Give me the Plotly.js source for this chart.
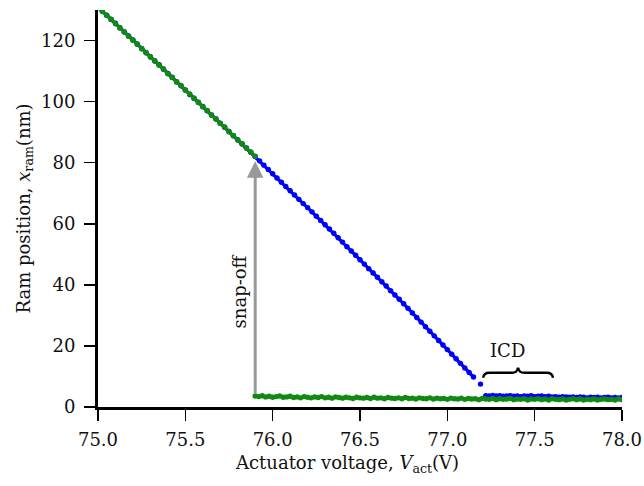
<!DOCTYPE html>
<html>
<head>
<meta charset="utf-8">
<script src="https://cdn.plot.ly/plotly-3.0.1.min.js"></script>
<style>html,body{margin:0;padding:0;background:#fff;}#chart{width:644px;height:486px;}</style>
</head>
<body>
<div id="chart"></div>
<script>
// Sweep sampling: start voltage and step (V) for each series segment
const blueSlopeStart = 75.0, blueSlopeStep = 0.025;
const blueSlopeY = [131.0,129.6,128.3,126.9,125.7,124.2,122.8,121.5,120.2,118.8,117.4,116.0,114.7,113.3,112.1,110.6,109.2,107.9,106.5,105.2,103.8,102.3,101.1,99.7,98.4,97.0,95.6,94.3,92.9,91.6,90.2,88.8,87.5,86.1,84.8,83.4,82.0,80.6,79.2,77.8,76.4,75.0,73.6,72.2,70.8,69.4,68.0,66.6,65.3,63.9,62.5,61.1,59.7,58.3,56.9,55.4,54.0,52.5,51.1,49.7,48.2,46.8,45.3,43.9,42.5,41.0,39.6,38.1,36.7,35.3,33.8,32.3,30.8,29.3,27.8,26.3,24.8,23.3,21.8,20.3,18.8,17.3,15.8,14.3,12.8,11.3,9.8];
const blueLastX = [77.19], blueLastY = [7.5];
const blueFlatStart = 77.22, blueFlatStep = 0.02;
const blueFlatY = [3.7,3.6,3.8,3.6,3.7,3.5,3.6,3.7,3.5,3.6,3.4,3.6,3.5,3.7,3.4,3.5,3.6,3.4,3.5,3.3,3.4,3.2,3.4,3.3,3.2,3.3,3.1,3.3,3.2,3.0,3.2,3.1,3.2,3.0,3.1,3.2,3.0,3.1,3.0,3.1];
const greenSlopeStart = 75.0, greenSlopeStep = 0.025;
const greenSlopeY = [130.8,129.5,128.2,127.0,125.5,124.1,122.9,121.4,120.1,118.9,117.3,116.1,114.6,113.4,111.9,110.7,109.1,108.0,106.4,105.3,103.7,102.5,101.0,99.8,98.3,97.1,95.5,94.4,92.8,91.7,90.1,88.9,87.4,86.2,84.7,83.5,82.1];
const greenFlatStart = 75.9, greenFlatStep = 0.02;
const greenFlatY = [3.6,3.4,3.7,3.3,3.5,3.2,3.4,3.6,3.2,3.3,3.5,3.1,3.3,3.0,3.4,3.2,3.0,3.3,3.1,3.4,3.0,3.2,2.9,3.3,3.1,2.9,3.2,3.0,2.8,3.2,3.0,2.9,3.1,2.8,3.2,2.9,3.0,2.7,3.1,2.9,2.8,3.0,2.7,3.1,2.8,2.9,2.6,3.0,2.8,2.7,3.0,2.6,2.9,2.7,2.8,2.5,2.9,2.7,2.6,2.9,2.5,2.8,2.6,2.7,2.4,2.8,2.6,2.5,2.8,2.4,2.7,2.5,2.6,2.8,2.4,2.6,2.5,2.7,2.3,2.6,2.5,2.7,2.4,2.6,2.3,2.7,2.5,2.4,2.6,2.3,2.5,2.7,2.4,2.6,2.3,2.5,2.4,2.6,2.3,2.5,2.6,2.4,2.5,2.3,2.6,2.4];
const xTicks = [75.0,75.5,76.0,76.5,77.0,77.5,78.0];
const yTicks = [0,20,40,60,80,100,120];
const snapV = 75.9, snapFrom = 4, snapTo = 80.5;

const BLUE = '#0000ff', GREEN = '#108a10';
const mk = (c)=>({color:c,size:5.4});
const ln = (c)=>({color:c,width:3.2});
const traces = [
  {type:'scatter',mode:'lines+markers',x0:blueSlopeStart,dx:blueSlopeStep,y:blueSlopeY,marker:mk(BLUE),line:ln(BLUE),hoverinfo:'skip'},
  {type:'scatter',mode:'markers',x:blueLastX,y:blueLastY,marker:mk(BLUE),hoverinfo:'skip'},
  {type:'scatter',mode:'lines+markers',x0:blueFlatStart,dx:blueFlatStep,y:blueFlatY,marker:mk(BLUE),line:ln(BLUE),hoverinfo:'skip'},
  {type:'scatter',mode:'lines+markers',x0:greenSlopeStart,dx:greenSlopeStep,y:greenSlopeY,marker:mk(GREEN),line:ln(GREEN),hoverinfo:'skip'},
  {type:'scatter',mode:'lines+markers',x0:greenFlatStart,dx:greenFlatStep,y:greenFlatY,marker:mk(GREEN),line:ln(GREEN),hoverinfo:'skip'}
];
const FONT = 'DejaVu Serif, serif';
const FS = 18;
const layout = {
  width:644,height:486,
  margin:{l:98,r:22,t:10,b:79},
  paper_bgcolor:'#fff',plot_bgcolor:'#fff',
  showlegend:false,
  font:{family:FONT,size:FS,color:'#111'},
  xaxis:{range:[75,78],tickvals:xTicks,ticktext:xTicks.map(v=>v.toFixed(1)),
    showgrid:false,zeroline:false,showline:true,linecolor:'#000',linewidth:3,
    ticks:'outside',ticklen:11,tickwidth:1.5,tickcolor:'#000',ticklabelstandoff:3,
    tickfont:{family:FONT,size:FS}},
  yaxis:{range:[0,130],tickvals:yTicks,
    showgrid:false,zeroline:false,showline:true,linecolor:'#000',linewidth:3,
    ticks:'outside',ticklen:11,tickwidth:1.5,tickcolor:'#000',ticklabelstandoff:5,
    tickfont:{family:FONT,size:FS}},
  annotations:[
    {x:0.475,y:0,xref:'paper',yref:'paper',yanchor:'middle',xanchor:'center',showarrow:false,
     text:'Actuator voltage, <i>V</i><sub>act</sub>(V)',font:{family:FONT,size:FS}},
    {x:0,y:0.5,xref:'paper',yref:'paper',yanchor:'middle',xanchor:'center',showarrow:false,textangle:-90,
     text:'Ram position, <i>x</i><sub>ram</sub>(nm)',font:{family:FONT,size:FS}},
    {x:snapV,y:snapTo,ax:snapV,ay:snapFrom,xref:'x',yref:'y',axref:'x',ayref:'y',
     showarrow:true,arrowhead:2,arrowsize:1.1,arrowwidth:3,arrowcolor:'#999',text:''},
    {x:75.81,y:38,xref:'x',yref:'y',text:'snap-off',textangle:-90,showarrow:false,font:{family:FONT,size:FS}},
    {x:77.345,y:18.5,xref:'x',yref:'y',text:'ICD',showarrow:false,font:{family:FONT,size:FS}}
  ],
  shapes:[
    {type:'path',xref:'x',yref:'y',
     path:'M77.205,9.6 Q77.21,11.2 77.24,11.2 L77.37,11.2 Q77.40,11.2 77.405,12.9 Q77.41,11.2 77.44,11.2 L77.57,11.2 Q77.60,11.2 77.605,9.6',
     line:{color:'#000',width:2.4}}
  ]
};
// title positions in paper units (x title centred on pixel row 464, y title on pixel column 24)
layout.annotations[0].y = -(464 - 407) / (407 - 10);
layout.annotations[1].x = (24 - 98) / (622 - 98);
Plotly.newPlot('chart',traces,layout,{staticPlot:true});
</script>
</body>
</html>
